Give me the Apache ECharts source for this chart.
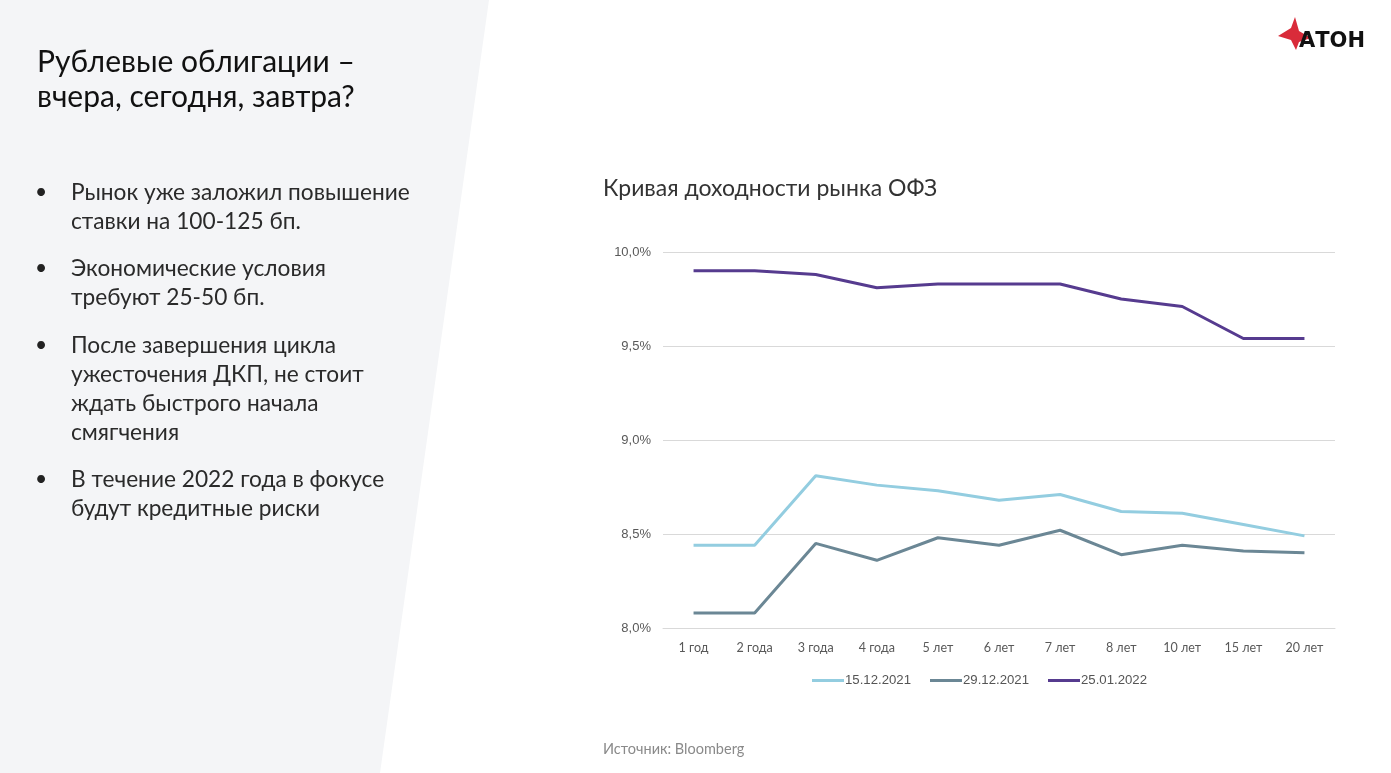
<!DOCTYPE html>
<html><head><meta charset="utf-8">
<script src="https://cdn.jsdelivr.net/npm/echarts@6/dist/echarts.min.js"></script>
<style>html,body{margin:0;padding:0;background:#fff;}#c{width:1391px;height:773px;}</style>
</head><body><div id="c"></div>
<script>
var categories = ['1 год','2 года','3 года','4 года','5 лет','6 лет','7 лет','8 лет','10 лет','15 лет','20 лет'];
var s1512 = [8.44,8.44,8.81,8.76,8.73,8.68,8.71,8.62,8.61,8.55,8.49];
var s2912 = [8.08,8.08,8.45,8.36,8.48,8.44,8.52,8.39,8.44,8.41,8.40];
var s2501 = [9.90,9.90,9.88,9.81,9.83,9.83,9.83,9.75,9.71,9.54,9.54];
var seriesNames = ['15.12.2021','29.12.2021','25.01.2022'];
var titleLines = ['Рублевые облигации –','вчера, сегодня, завтра?'];
var bullets = [
  ['Рынок уже заложил повышение','ставки на 100-125 бп.'],
  ['Экономические условия','требуют 25-50 бп.'],
  ['После завершения цикла','ужесточения ДКП, не стоит','ждать быстрого начала','смягчения'],
  ['В течение 2022 года в фокусе','будут кредитные риски']
];
var chartTitle = 'Кривая доходности рынка ОФЗ';
var sourceText = 'Источник: Bloomberg';

var FONT = 'Lato, "Noto Sans", sans-serif';
var graphics = [];
graphics.push({type:'polygon', z:-10, shape:{points:[[0,0],[489,0],[380,773],[0,773]]}, style:{fill:'#f4f5f7'}});
titleLines.forEach(function(t,i){
  graphics.push({type:'text', left:37, top:47+i*35, style:{text:t, font:'400 30px '+FONT, fill:'#111'}});
});
var bulletTops = [181, 257, 334, 468];
bullets.forEach(function(lines,bi){
  graphics.push({type:'text', left:35, top:bulletTops[bi]+1, style:{text:'•', font:'400 21px '+FONT, fill:'#222'}});
  lines.forEach(function(l,li){
    graphics.push({type:'text', left:71, top:bulletTops[bi]+li*29, style:{text:l, font:'400 22.7px '+FONT, fill:'#2a2a2a'}});
  });
});
graphics.push({type:'text', left:603, top:177, style:{text:chartTitle, font:'400 23px '+FONT, fill:'#333'}});
graphics.push({type:'text', left:603, top:742, style:{text:sourceText, font:'400 14.5px '+FONT, fill:'#8a8a8a'}});
// logo
graphics.push({type:'polygon', shape:{points:[[1278,36],[1291,28],[1295,17],[1299,31],[1311,38],[1299,42],[1296,50],[1291,40]]}, style:{fill:'#d92b3a'}});
graphics.push({type:'text', left:1299, top:31, style:{text:'АТОН', font:'700 21px "DejaVu Sans", sans-serif', fill:'#111'}});

var chart = echarts.init(document.getElementById('c'));
chart.setOption({
  animation:false,
  backgroundColor:'transparent',
  graphic: graphics,
  grid:{left:663, right:56, top:252, bottom:145},
  legend:{
    data: seriesNames, bottom:81, left:807, itemWidth:32, itemHeight:3, itemGap:19,
    icon:'rect', textStyle:{fontSize:13.2, color:'#555', fontFamily:'"Liberation Sans", Arial, sans-serif', padding:[0,0,0,-4]}
  },
  xAxis:{type:'category', data:categories, boundaryGap:true,
    axisLine:{show:true, lineStyle:{color:'#d9d9d9'}}, axisTick:{show:false},
    axisLabel:{color:'#595959', fontSize:12.5, fontFamily:FONT, margin:13, interval:0}},
  yAxis:{type:'value', min:8, max:10, interval:0.5,
    axisLine:{show:false}, axisTick:{show:false},
    splitLine:{lineStyle:{color:'#d9d9d9'}},
    axisLabel:{color:'#595959', fontSize:13, fontFamily:'"Liberation Sans", Arial, sans-serif', margin:12,
      formatter:function(v){return v.toFixed(1).replace('.',',')+'%';}}},
  series:[
    {name:seriesNames[0], type:'line', data:s1512, symbol:'none', lineStyle:{width:3, color:'#93cde0'}, itemStyle:{color:'#93cde0'}},
    {name:seriesNames[1], type:'line', data:s2912, symbol:'none', lineStyle:{width:3, color:'#6b8795'}, itemStyle:{color:'#6b8795'}},
    {name:seriesNames[2], type:'line', data:s2501, symbol:'none', lineStyle:{width:3, color:'#563b8f'}, itemStyle:{color:'#563b8f'}}
  ]
});
</script></body></html>
